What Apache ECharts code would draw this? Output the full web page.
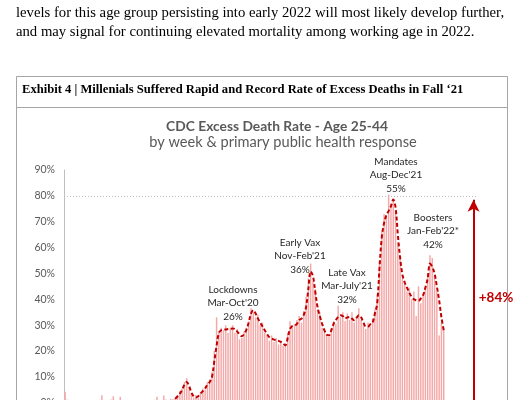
<!DOCTYPE html>
<html>
<head>
<meta charset="utf-8">
<script src="https://cdn.jsdelivr.net/npm/echarts@6/dist/echarts.min.js"></script>
<style>
html,body{margin:0;padding:0;background:#fff;overflow:hidden;}
#c{position:absolute;left:0;top:0;width:530px;height:430px;}
</style>
</head>
<body>
<div id="c"></div>
<script>
// ---- data ----
var startDate = '2019-01-05';
var extraSlots = 14; // empty weeks to the right of the data (plot area continues)
var barValues = [
  4.2,1.2,0.8,0.6,0.9,0.5,0.7,1.0,0.6,0.4,0.8,0.5,0.9,0.6,0.7,1.1,2.9,0.8,0.5,0.9,
  1.2,2.5,0.7,0.9,2.3,0.6,0.8,0.5,0.7,1.0,0.6,0.9,0.5,0.8,0.6,1.0,0.7,0.5,0.9,1.1,
  2.3,0.8,1.0,2.8,1.2,0.9,1.5,1.3,
  2.0,3.0,4.5,5.5,8.0,9.5,6.0,3.5,2.0,3.0,2.0,4.0,5.5,5.0,8.0,9.0,12.0,20.0,33.0,27.0,
  29.0,28.0,30.0,27.0,29.0,30.0,27.0,28.5,24.5,25.0,27.5,29.0,31.5,36.5,35.0,33.0,34.0,30.0,31.0,27.0,
  26.0,24.0,26.0,23.5,25.0,22.5,24.0,22.0,23.0,27.0,31.5,29.0,30.5,32.0,33.5,31.0,35.5,41.0,48.0,53.8,
  47.0,44.0,36.0,35.0,29.0,27.5,26.0,25.5,29.0,31.5,30.5,37.5,33.0,35.0,31.5,34.5,32.0,35.0,31.0,33.5,
  36.5,32.0,30.5,28.5,31.0,29.5,32.5,36.0,42.0,55.0,66.0,73.0,72.0,80.5,77.0,78.0,74.0,62.0,56.0,48.0,
  47.0,43.0,44.5,40.0,43.0,33.5,45.0,38.5,42.0,45.0,50.0,57.0,56.0,49.0,43.0,26.0,31.0,28.0
];
var lineStart = 48; // moving-average line begins at this week index
var lineValues = [
  1.5,2.5,3.5,5.0,7.0,8.0,6.5,4.0,2.5,2.0,2.5,3.5,4.5,5.5,7.0,8.0,10.0,16.0,22.0,27.0,
  28.0,28.3,28.3,28.5,28.6,28.7,28.5,27.5,26.5,25.7,26.5,28.3,31.0,34.5,35.8,34.5,32.6,31.0,29.5,28.0,
  26.5,25.3,24.8,24.4,24.1,23.9,23.5,22.8,22.2,25.0,28.5,29.6,29.8,30.5,32.0,32.5,34.0,37.0,44.0,50.8,
  49.0,43.0,37.0,33.5,30.5,28.0,26.3,26.1,28.0,30.5,32.0,33.2,33.8,33.5,32.6,33.0,33.2,32.5,31.9,32.8,
  33.8,33.0,31.0,29.5,29.5,30.3,31.0,34.5,38.4,52.0,64.0,69.5,72.5,74.2,76.0,78.6,75.5,65.0,56.0,49.5,
  46.5,44.5,42.5,41.0,40.0,39.6,39.4,40.3,41.5,44.5,48.0,53.8,52.5,50.0,45.0,39.6,33.0,28.0
];
var yTicks = [0, 90, 10]; // min, max, interval
var refLevel = 80;        // dotted reference line
var arrowTop = 78.5;      // arrow tip value
var arrowSlot = 178;      // week slot where the arrow stands
var changeLabel = '+84%';
var annotations = [
  {name:'Lockdowns', period:"Mar-Oct'20", avg:'26%'},
  {name:'Early Vax', period:"Nov-Feb'21", avg:'36%'},
  {name:'Late Vax', period:"Mar-July'21", avg:'32%'},
  {name:'Mandates', period:"Aug-Dec'21", avg:'55%'},
  {name:'Boosters', period:"Jan-Feb'22*", avg:'42%'}
];
var paragraph = [
  'levels for this age group persisting into early 2022 will most likely develop further,',
  'and may signal for continuing elevated mortality among working age in 2022.'
];
var exhibitTitle = 'Exhibit 4 | Millenials Suffered Rapid and Record Rate of Excess Deaths in Fall \u201821';
var chartTitle = 'CDC Excess Death Rate - Age 25-44';
var chartSubtitle = 'by week & primary public health response';

// ---- build ----
var categories = [];
var d0 = new Date(startDate + 'T00:00:00Z');
for (var i = 0; i < barValues.length + extraSlots; i++) {
  var d = new Date(d0.getTime() + i * 7 * 86400000);
  categories.push(d.toISOString().slice(0, 10));
}
var lineData = [];
for (var j = 0; j < lineStart; j++) lineData.push(null);
lineData = lineData.concat(lineValues);

var font = 'Lato';
var annPos = [[233, 303], [300, 256], [347, 286], [396, 175], [433, 231]];
var ann = annotations.map(function (a, k) {
  return {
    type: 'text', x: annPos[k][0], y: annPos[k][1],
    style: {
      text: a.name + '\n' + a.period + '\n' + a.avg,
      fontFamily: font, fontSize: 10, lineHeight: 13.5,
      fill: '#262626', align: 'center', verticalAlign: 'middle'
    }
  };
});

var chart = echarts.init(document.getElementById('c'), null, {renderer: 'canvas'});
chart.setOption({
  animation: false,
  backgroundColor: '#fff',
  title: [
    {text: chartTitle, left: 272, top: 115, textAlign: 'center',
     textStyle: {fontFamily: font, fontSize: 13.8, fontWeight: 'bold', color: '#595959'}},
    {text: chartSubtitle, left: 278, top: 130, textAlign: 'center',
     textStyle: {fontFamily: font, fontSize: 14.6, fontWeight: 'normal', color: '#595959'}}
  ],
  grid: {left: 64, right: 53, top: 170, bottom: 27.3, containLabel: false},
  xAxis: {
    type: 'category', data: categories, boundaryGap: true,
    axisLine: {show: false}, axisTick: {show: false}, axisLabel: {show: false}
  },
  yAxis: {
    type: 'value', min: yTicks[0], max: yTicks[1], interval: yTicks[2],
    axisLine: {show: true, lineStyle: {color: '#bfbfbf', width: 1}},
    axisTick: {show: false}, splitLine: {show: false},
    axisLabel: {formatter: '{value}%', color: '#595959', fontFamily: font, fontSize: 10.5, margin: 9}
  },
  series: [
    {
      type: 'bar', data: barValues, barWidth: '64%',
      itemStyle: {color: '#f4a9a9'},
      markLine: {
        silent: true, animation: false,
        label: {show: false},
        data: [
          [{coord: [0, refLevel], x: 64, symbol: 'none'},
           {coord: [barValues.length + extraSlots - 1, refLevel], x: 477, symbol: 'none'}],
          [{coord: [arrowSlot, yTicks[0]], symbol: 'none'},
           {coord: [arrowSlot, arrowTop], symbol: 'arrow', symbolSize: [9, 12],
            lineStyle: {color: '#c00000', width: 2, type: 'solid'}}]
        ],
        lineStyle: {color: '#bfbfbf', type: [1, 2], width: 1}
      }
    },
    {
      type: 'line', data: lineData, smooth: 0.35, symbol: 'none', connectNulls: false,
      lineStyle: {color: '#c00000', width: 2, type: [4, 2.5]}
    }
  ],
  graphic: [
    {type: 'text', x: 16, y: 13, style: {text: paragraph[0], fontFamily: 'Liberation Serif', fontSize: 14.7, fill: '#000', verticalAlign: 'middle'}},
    {type: 'text', x: 16, y: 32, style: {text: paragraph[1], fontFamily: 'Liberation Serif', fontSize: 14.7, fill: '#000', verticalAlign: 'middle'}},
    {type: 'rect', shape: {x: 16.5, y: 76.5, width: 491, height: 400}, style: {fill: 'none', stroke: '#a6a6a6', lineWidth: 1}},
    {type: 'line', shape: {x1: 16.5, y1: 107.5, x2: 507.5, y2: 107.5}, style: {stroke: '#a6a6a6', lineWidth: 1}},
    {type: 'text', x: 22, y: 90, style: {text: exhibitTitle, fontFamily: 'Liberation Serif', fontSize: 12.6, fontWeight: 'bold', fill: '#000', verticalAlign: 'middle'}},
    {type: 'text', x: 496, y: 298, style: {text: changeLabel, fontFamily: font, fontSize: 13.5, fontWeight: 'bold', fill: '#c00000', align: 'center', verticalAlign: 'middle'}}
  ].concat(ann)
});
</script>
</body>
</html>
